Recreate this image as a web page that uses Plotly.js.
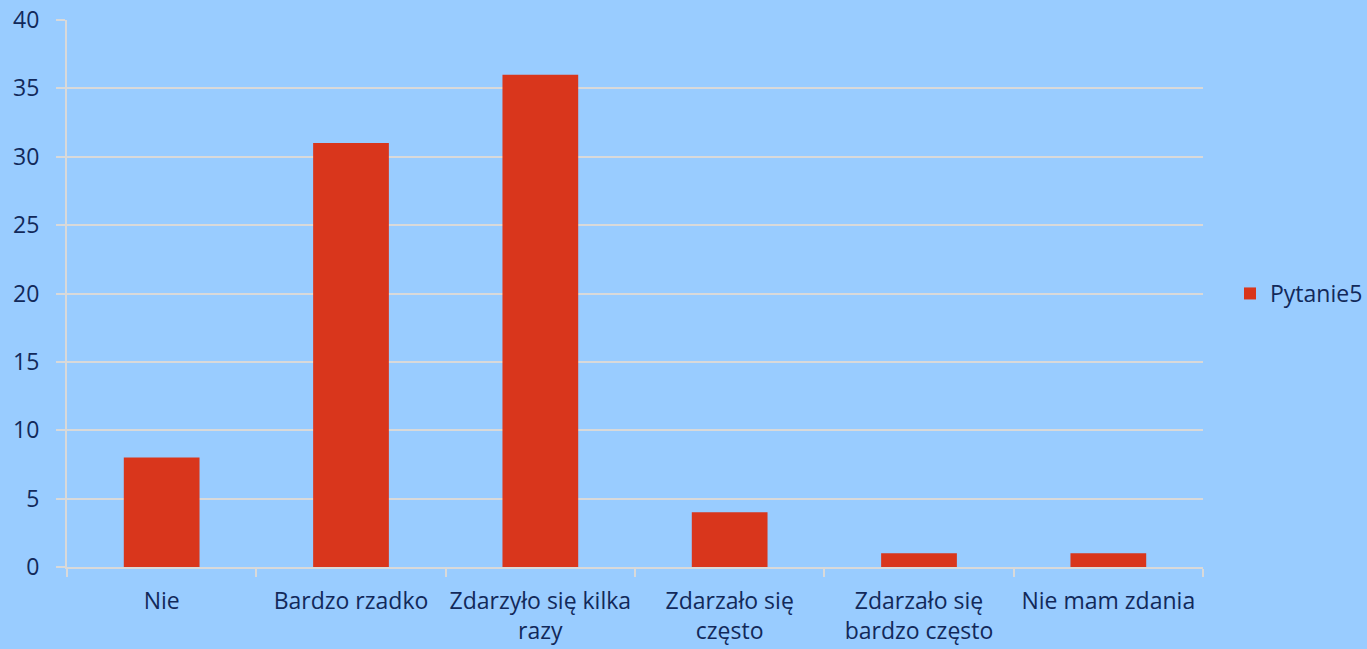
<!DOCTYPE html>
<html>
<head>
<meta charset="utf-8">
<script src="https://cdn.plot.ly/plotly-3.0.1.min.js"></script>
<style>html,body{margin:0;padding:0;background:#99CCFF;}#chart{width:1367px;height:649px;}</style>
</head>
<body>
<div id="chart"></div>
<script>
const categories = ["Nie", "Bardzo rzadko", "Zdarzyło się kilka<br>razy", "Zdarzało się<br>często", "Zdarzało się<br>bardzo często", "Nie mam zdania"];
const values = [8, 31, 36, 4, 1, 1];
const seriesName = "Pytanie5";
const yTicks = [0, 5, 10, 15, 20, 25, 30, 35, 40];

const textColor = "#12295A";
const gridColor = "#D9D9D9";

Plotly.newPlot("chart", [{
  type: "bar",
  x: categories,
  y: values,
  name: seriesName,
  marker: {color: "#D9361C"},
  showlegend: true,
  hoverinfo: "none"
}], {
  width: 1367, height: 649,
  paper_bgcolor: "#99CCFF",
  plot_bgcolor: "#99CCFF",
  margin: {l: 67, r: 164, t: 20, b: 82},
  bargap: 0.6,
  font: {family: "Open Sans, sans-serif", size: 23, color: textColor},
  xaxis: {
    type: "category",
    tickangle: 0,
    showline: true, linecolor: gridColor, linewidth: 2,
    ticks: "outside", tickson: "boundaries", ticklen: 8, tickcolor: gridColor, tickwidth: 2,
    ticklabelstandoff: 12,
    showgrid: false, zeroline: false,
    automargin: false,
    tickfont: {size: 23, color: textColor}
  },
  yaxis: {
    range: [0, 40], tickvals: yTicks, ticktext: yTicks.map(String),
    showline: true, linecolor: gridColor, linewidth: 2,
    showgrid: true, gridcolor: gridColor, gridwidth: 2,
    ticks: "outside", ticklen: 9, tickcolor: gridColor, tickwidth: 2,
    ticklabelstandoff: 12,
    zeroline: false,
    automargin: false,
    tickfont: {size: 23, color: textColor}
  },
  legend: {xref: "container", x: 1230/1367, xanchor: "left", y: 0.5, yanchor: "middle", bgcolor: "rgba(0,0,0,0)", font: {size: 23, color: textColor}, itemwidth: 30}
}, {displayModeBar: false, staticPlot: true});
</script>
</body>
</html>
